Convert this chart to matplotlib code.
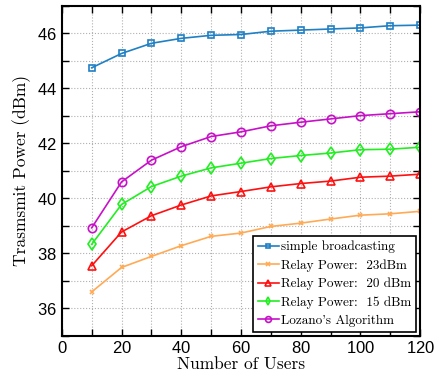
import matplotlib
matplotlib.use("Agg")
import matplotlib.pyplot as plt
from matplotlib.ticker import MultipleLocator

users = [10, 20, 30, 40, 50, 60, 70, 80, 90, 100, 110, 120]
simple_broadcast = [44.74, 45.26, 45.63, 45.81, 45.92, 45.95, 46.07, 46.11, 46.15, 46.19, 46.27, 46.29]
relay_23 = [36.59, 37.48, 37.88, 38.27, 38.61, 38.73, 38.97, 39.09, 39.24, 39.38, 39.43, 39.52]
relay_20 = [37.54, 38.77, 39.36, 39.75, 40.08, 40.24, 40.41, 40.53, 40.62, 40.76, 40.80, 40.87]
relay_15 = [38.32, 39.77, 40.42, 40.80, 41.10, 41.27, 41.44, 41.55, 41.64, 41.76, 41.78, 41.85]
lozano = [38.92, 40.59, 41.38, 41.87, 42.24, 42.41, 42.63, 42.76, 42.88, 43.00, 43.07, 43.14]

serif = ["cmr10", "DejaVu Serif"]
plt.rcParams["axes.formatter.use_mathtext"] = True

fig = plt.figure(figsize=(4.45, 3.75), dpi=100)
ax = fig.add_axes([0.139, 0.105, 0.805, 0.88])

ax.plot(users, simple_broadcast, color="#1f80c4", marker="s", ms=5, mfc="none", mew=1.2, lw=1.2,
        label="simple broadcasting")
ax.plot(users, relay_23, color="#ffaa55", marker="x", ms=3.5, mew=1.2, lw=1.2,
        label="Relay Power:  23dBm")
ax.plot(users, relay_20, color="#ff1010", marker="^", ms=6, mfc="none", mew=1.2, lw=1.2,
        label="Relay Power:  20 dBm")
ax.plot(users, relay_15, color="#22ee22", marker="d", ms=6, mfc="none", mew=1.2, lw=1.2,
        label="Relay Power:  15 dBm")
ax.plot(users, lozano, color="#c810c8", marker="o", ms=6, mfc="none", mew=1.2, lw=1.2,
        label="Lozano's Algorithm")

ax.set_xlim(0, 120)
ax.set_ylim(35, 47)
ax.xaxis.set_major_locator(MultipleLocator(20))
ax.xaxis.set_minor_locator(MultipleLocator(10))
ax.yaxis.set_major_locator(MultipleLocator(2))
ax.yaxis.set_minor_locator(MultipleLocator(1))
ax.grid(True, which="both", linestyle=":", color="#b0b0b0", lw=0.8)
ax.tick_params(which="both", direction="in", top=True, right=True, labelsize=12)
ax.tick_params(which="major", length=5, width=1)
ax.tick_params(which="minor", length=5, width=1)
for lab in ax.get_xticklabels() + ax.get_yticklabels():
    lab.set_family(["Liberation Sans", "DejaVu Sans"])
for s in ax.spines.values():
    s.set_linewidth(1.5)

ax.set_xlabel("Number of Users", family=serif, fontsize=12.5, labelpad=0)
ax.set_ylabel("Trasmsmit Power (dBm)", family=serif, fontsize=12.5, labelpad=4)

leg = ax.legend(loc="lower right", prop={"family": serif, "size": 9.5}, fancybox=False,
                edgecolor="black", framealpha=1, handlelength=1.6, handletextpad=0.2,
                labelspacing=0.45, borderpad=0.35, borderaxespad=0.3, markerscale=0.7)
leg.get_frame().set_linewidth(1.2)

fig.savefig("out.png", dpi=100)
